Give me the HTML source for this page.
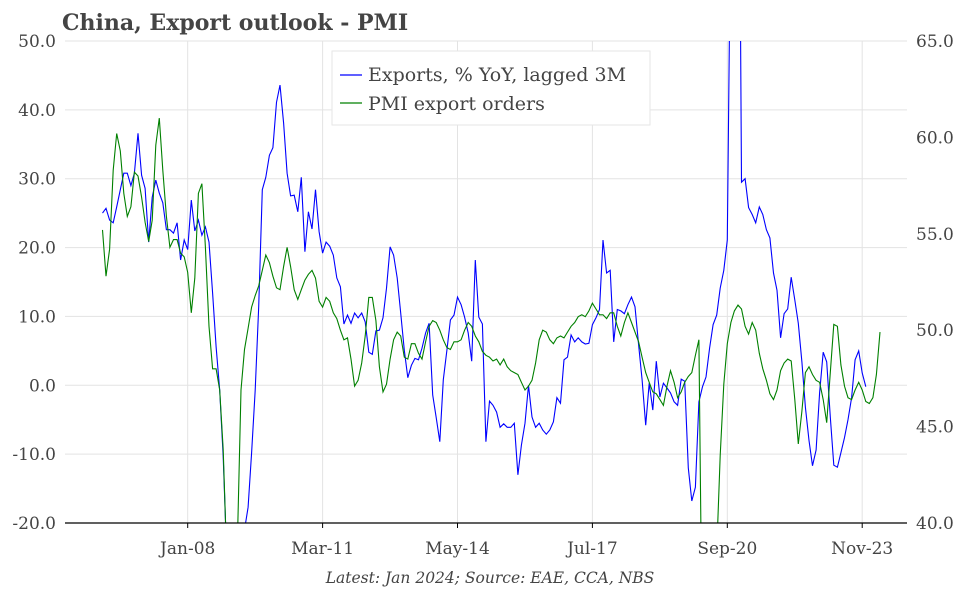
<!DOCTYPE html>
<html><head><meta charset="utf-8"><style>
html,body{margin:0;padding:0;background:#fff;overflow:hidden;}
svg{display:block;}
svg text{font-family:"DejaVu Serif","Liberation Serif",serif;fill:#444;}
</style></head><body>
<svg width="972" height="589" viewBox="0 0 972 589" xmlns="http://www.w3.org/2000/svg">
<text x="62" y="30" font-size="22" font-weight="bold">China, Export outlook - PMI</text>
<defs><clipPath id="pc"><rect x="65" y="41" width="842" height="482"/></clipPath></defs>
<g id="grid"></g>
<g id="series" clip-path="url(#pc)"></g>
<line x1="65" y1="523" x2="907" y2="523" stroke="#000" stroke-width="1.2"/>
<g id="labels"></g>
<g>
<rect x="332" y="51" width="318" height="74" fill="#fff" stroke="#e6e6e6"/>
<line x1="340" y1="75" x2="362" y2="75" stroke="#0000ff" stroke-width="1.2"/>
<text x="368" y="81" font-size="19">Exports, % YoY, lagged 3M</text>
<line x1="340" y1="103" x2="362" y2="103" stroke="#008000" stroke-width="1.2"/>
<text x="368" y="110" font-size="19">PMI export orders</text>
</g>
<text x="490" y="583" font-size="15.5" font-style="italic" text-anchor="middle">Latest: Jan 2024; Source: EAE, CCA, NBS</text>
</svg>
<script>
const startYear = 2006; // first month: Jan-2006
const exportsYoY = [25.0,25.7,24,23.6,25.9,28.4,30.8,30.8,29,30.8,36.6,30.5,28.6,20.8,27.3,29.8,27.9,26.5,22.6,22.6,22.1,23.6,18.2,21.1,19.7,26.9,22.4,24,21.8,23,20.8,13.4,5.6,-0.7,-10.4,-25,-27,-26,-24,-22,-21,-17.7,-9.8,-0.7,11.4,28.4,30.2,33.4,34.5,41.1,43.6,38.1,30.8,27.5,27.6,25.2,30.2,
19.4,25.2,22.7,28.4,22.3,19.2,20.8,20.2,18.9,15.6,14.3,8.9,10.2,9,10.5,9.8,10.5,9.2,4.8,4.5,7.9,8,9.8,14.1,20.1,18.9,15.6,10.5,5.1,1.1,2.9,3.9,3.7,5.4,7.6,9,-1.4,-4.7,-8.2,0.8,5.1,9.5,10.2,12.8,11.7,9.9,7.6,3.5,18.2,9.9,8.9,-8.2,-2.3,-2.9,-3.9,-6.1,-5.6,-6.1,-6.1,
-5.5,-13,-8.7,-5.5,0,-4.6,-6.1,-5.5,-6.5,-7.1,-6.5,-5.3,-1.8,-2.6,3.7,4.1,7.3,6.3,6.9,6.3,6,6.1,8.8,9.8,11,21.1,16.3,16.7,6.3,11,10.8,10.4,11.7,12.8,11.4,5.9,0.8,-5.8,0.3,-3.6,3.5,-1.7,0.3,-0.4,-1.1,-2.4,-2.9,0.9,0.6,-12,-16.8,-14.8,-2.4,-0.2,1.2,5.4,
8.8,10.2,14.1,16.7,21.1,72,90,110,29.5,30,25.8,24.8,23.6,25.9,24.8,22.6,21.4,16.3,13.8,6.9,10.4,11.1,15.7,12.4,9,3.4,-3.2,-8,-11.7,-9.4,-1.1,4.8,3.4,-4.6,-11.6,-11.9,-9.8,-7.6,-5,-1.8,3.7,5,1.8,-0.2];
const pmiExportOrders = [55.2,52.8,54.2,58.3,60.2,59.3,57.1,55.9,56.4,58.2,58.0,56.9,55.6,54.6,55.7,59.6,61.0,58.3,55.9,54.3,54.7,54.7,54.0,53.8,53.0,50.9,52.7,57.1,57.6,54.3,50.2,48.0,48.0,46.9,43.8,38,35,36,39,46.9,49,50.1,51.2,51.8,52.3,53.1,53.9,53.5,52.8,52.2,52.1,53.3,54.3,53.3,52.1,51.6,52.1,52.6,
52.9,53.1,52.7,51.5,51.2,51.7,51.5,50.9,50.6,50.0,49.5,49.6,48.5,47.1,47.4,48.3,49.7,51.7,51.7,50.5,48.1,46.8,47.2,48.5,49.5,49.9,49.7,48.6,48.5,49.3,49.3,48.8,48.5,49.4,50.2,50.5,50.4,50.0,49.5,49.1,49.0,49.4,49.4,49.5,50.0,50.4,50.2,49.7,49.4,48.9,48.7,48.6,48.4,48.5,48.2,48.5,48.1,47.9,
47.8,47.7,47.3,46.9,47.1,47.4,48.3,49.5,50.0,49.9,49.5,49.3,49.6,49.7,49.6,49.9,50.2,50.4,50.7,50.8,50.7,51.0,51.4,51.1,50.8,50.8,50.6,50.9,50.9,50.2,49.7,50.4,50.9,50.4,49.9,49.4,48.6,47.8,47.3,46.8,46.7,46.4,46.1,47.1,47.9,47.3,46.5,46.8,47.3,47.6,47.8,48.7,49.5,32,30,31,35,
38.5,43.5,47.2,49.3,50.4,51.0,51.3,51.1,50.2,49.8,50.4,50.0,48.8,48.0,47.4,46.7,46.4,46.9,47.9,48.3,48.5,48.4,46.4,44.1,45.8,47.8,48.1,47.7,47.4,47.3,46.4,45.2,47.8,50.3,50.2,48.2,47.1,46.5,46.4,46.9,47.3,46.9,46.3,46.2,46.5,47.7,49.9];
const leftTicks = [-20,-10,0,10,20,30,40,50];
const rightTicks = [40,45,50,55,60,65];
const xTickLabels = ["Jan-08","Mar-11","May-14","Jul-17","Sep-20","Nov-23"];
const xTickMonths = [24,62,100,138,176,214]; // months since Jan-2006

const NS="http://www.w3.org/2000/svg";
const X0=65,X1=907,Y0=41,Y1=523;
const xm = m => 102.5 + m*(134.9/38);
const yL = v => Y1 - (v+20)/70*(Y1-Y0);
const yR = v => Y1 - (v-40)/25*(Y1-Y0);
function mk(tag, attrs, parent){const e=document.createElementNS(NS,tag);for(const k in attrs)e.setAttribute(k,attrs[k]);parent.appendChild(e);return e;}
const grid=document.getElementById('grid'), labels=document.getElementById('labels'), series=document.getElementById('series');
leftTicks.forEach(t=>{
  const l=mk('line',{x1:X0,x2:X1,y1:yL(t),y2:yL(t),stroke:'#e3e3e3','stroke-width':1},grid);
  
  
  const tx=mk('text',{x:56,y:yL(t)+6,'font-size':17,'text-anchor':'end'},labels);
  tx.textContent=t.toFixed(1);
  
  
});
rightTicks.forEach(t=>{
  const tx=mk('text',{x:916,y:yR(t)+6,'font-size':17},labels);
  tx.textContent=t.toFixed(1);
  
  
});
xTickMonths.forEach((m,i)=>{
  const x=xm(m);
  const g=mk('line',{x1:x,x2:x,y1:Y0,y2:Y1,stroke:'#e3e3e3','stroke-width':1},grid);
  
  
  const tk=mk('line',{x1:x,x2:x,y1:Y1,y2:Y1+5,stroke:'#000'},labels);
  
  
  const tx=mk('text',{x:x,y:Y1+31,'font-size':17,'text-anchor':'middle'},labels);
  tx.textContent=xTickLabels[i];
  
  
});
const pe=mk('polyline',{points:exportsYoY.map((v,i)=>xm(i).toFixed(1)+','+yL(v).toFixed(1)).join(' '),fill:'none',stroke:'#0000ff','stroke-width':1.1},series);


const pp=mk('polyline',{points:pmiExportOrders.map((v,i)=>xm(i).toFixed(1)+','+yR(v).toFixed(1)).join(' '),fill:'none',stroke:'#008000','stroke-width':1.1},series);


</script>
</body></html>
